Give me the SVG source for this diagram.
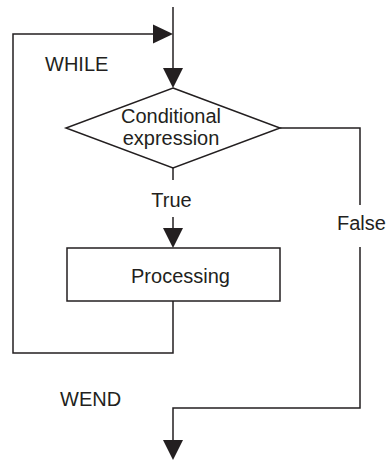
<svg xmlns="http://www.w3.org/2000/svg" width="387" height="462" viewBox="0 0 387 462">
<style>
.ln{fill:none;stroke:#231f20;stroke-width:1.5}
.sh{fill:#fff;stroke:#231f20;stroke-width:1.5}
.tx{font-family:"Liberation Sans",Arial,sans-serif;font-size:20px;fill:#231f20}
.ah{fill:#231f20}
</style>
<defs>
<polygon id="down" class="ah" points="-10,-20 10,-20 0,0"/>
</defs>
<g id="connectors">
<polyline class="ln" points="173,7 173,70"/>
<use href="#down" x="173" y="88"/>
<polyline class="ln" points="173,168 173,180"/>
<polyline class="ln" points="173,217 173,230"/>
<use href="#down" x="173" y="248"/>
<polyline class="ln" points="173,301 173,353 13,353 13,34 156,34"/>
<polygon class="ah" points="153,24.5 173,34 153,43.5"/>
<polyline class="ln" points="280,128 360,128 360,205"/>
<polyline class="ln" points="360,247 360,408 173,408 173,443"/>
<use href="#down" x="173" y="460"/>
</g>
<g id="while"><text class="tx" x="45" y="71">WHILE</text></g>
<g id="cond">
<polygon class="sh" points="173,88 280,128 173,168 66,128"/>
<text class="tx" x="171" y="123" text-anchor="middle">Conditional</text>
<text class="tx" x="171" y="145" text-anchor="middle">expression</text>
</g>
<g id="true"><text class="tx" x="171.5" y="207" text-anchor="middle">True</text></g>
<g id="false"><text class="tx" x="337" y="230">False</text></g>
<g id="proc">
<rect class="sh" x="67" y="248" width="213" height="53"/>
<text class="tx" x="180.5" y="283" text-anchor="middle">Processing</text>
</g>
<g id="wend"><text class="tx" x="60" y="406">WEND</text></g>
</svg>
